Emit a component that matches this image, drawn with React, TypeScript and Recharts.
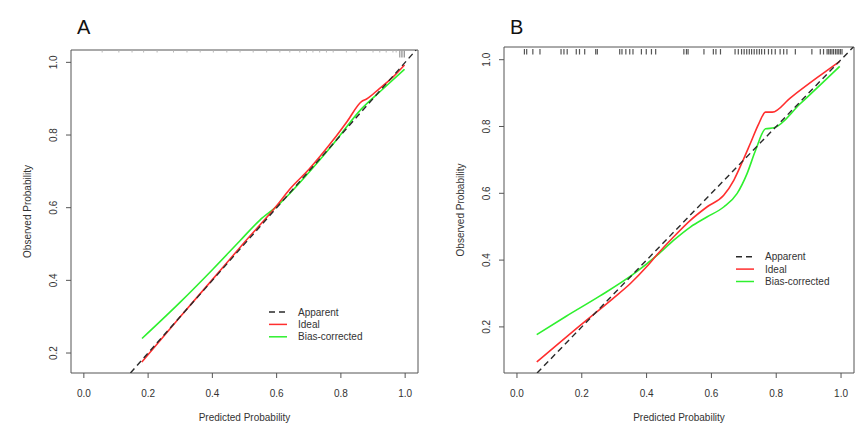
import React from 'react';
import { ComposedChart, Line, Scatter, XAxis, YAxis, ReferenceArea } from 'recharts';

// ---------- data ----------
const xTicks = [0, 0.2, 0.4, 0.6, 0.8, 1.0];
const yTicks = [0.2, 0.4, 0.6, 0.8, 1.0];
const xDomain: [number, number] = [-0.04, 1.04];
const yDomainA: [number, number] = [0.145, 1.034];
const yDomainB: [number, number] = [0.062, 1.038];

// Panel A
const idealAX = [0.18, 0.3, 0.4, 0.5, 0.6, 0.64, 0.7, 0.734, 0.776, 0.82, 0.864, 0.88, 0.92, 0.96, 0.998];
const idealAY = [0.175, 0.3, 0.402, 0.505, 0.605, 0.65, 0.705, 0.74, 0.786, 0.838, 0.892, 0.899, 0.928, 0.958, 0.993];
const biasAX = [0.181, 0.3, 0.403, 0.486, 0.548, 0.605, 0.641, 0.734, 0.776, 0.864, 0.93, 0.998];
const biasAY = [0.24, 0.34, 0.432, 0.509, 0.566, 0.607, 0.639, 0.731, 0.775, 0.872, 0.926, 0.981];
const rugAShort = [0.057, 0.109, 0.15, 0.186, 0.228, 0.279, 0.321, 0.362, 0.403, 0.445, 0.486, 0.527, 0.569, 0.61, 0.641, 0.672, 0.693, 0.713, 0.734, 0.755, 0.776, 0.817, 0.848, 0.9, 0.921, 0.941, 0.962, 0.972];
const rugATall = [0.983, 0.988, 0.993, 0.998];

// Panel B
const idealBX = [0.061, 0.198, 0.296, 0.35, 0.4, 0.432, 0.483, 0.535, 0.586, 0.638, 0.669, 0.695, 0.72, 0.746, 0.767, 0.788, 0.844, 0.926, 0.996];
const idealBY = [0.095, 0.207, 0.285, 0.33, 0.38, 0.416, 0.469, 0.519, 0.559, 0.594, 0.639, 0.693, 0.749, 0.808, 0.843, 0.843, 0.886, 0.946, 0.995];
const biasBX = [0.061, 0.152, 0.255, 0.358, 0.432, 0.483, 0.535, 0.586, 0.638, 0.679, 0.71, 0.736, 0.767, 0.793, 0.874, 0.996];
const biasBY = [0.177, 0.232, 0.292, 0.357, 0.414, 0.459, 0.499, 0.529, 0.559, 0.599, 0.659, 0.728, 0.793, 0.796, 0.868, 0.98];
const rugB = [0.023, 0.03, 0.049, 0.071, 0.136, 0.145, 0.155, 0.183, 0.193, 0.209, 0.243, 0.248, 0.317, 0.324, 0.336, 0.348, 0.358, 0.384, 0.399, 0.415, 0.428, 0.515, 0.523, 0.528, 0.577, 0.606, 0.614, 0.628, 0.673, 0.683, 0.693, 0.701, 0.709, 0.717, 0.724, 0.732, 0.74, 0.748, 0.755, 0.764, 0.776, 0.786, 0.797, 0.812, 0.823, 0.833, 0.859, 0.91, 0.936, 0.946, 0.957, 0.962, 0.967, 0.972, 0.977, 0.983, 0.988, 0.993, 0.998, 1.003];

const legendLabels = ['Apparent', 'Ideal', 'Bias-corrected'];

// ---------- helpers ----------
const FONT = '"Liberation Sans", Arial, Helvetica, sans-serif';
const RED = '#ff2e2e';
const GREEN = '#2ef02e';
const BLACK = '#2a2a2a';
const AXIS = '#555';

const zip = (xs: number[], ys: number[]) => xs.map((x, i) => ({ x, y: ys[i] }));

const XTick = (props: any) => {
  const { x, y, payload } = props;
  return (
    <text x={x} y={y} dy={18.5} textAnchor="middle" fontSize={10} fill="#333" fontFamily={FONT}>
      {Number(payload.value).toFixed(1)}
    </text>
  );
};

const YTick = (props: any) => {
  const { x, y, payload } = props;
  return (
    <text transform={`translate(${x - 9},${y}) rotate(-90)`} textAnchor="middle" fontSize={10} fill="#333" fontFamily={FONT}>
      {Number(payload.value).toFixed(1)}
    </text>
  );
};

const rugShape = (len: number, off: number, color: string, w: number) => (p: any) => (
  <line x1={p.cx} x2={p.cx} y1={p.cy + off} y2={p.cy + off + len} stroke={color} strokeWidth={w} />
);

type PanelProps = {
  title: string;
  left: number;
  yDomain: [number, number];
  ideal: { x: number; y: number }[];
  bias: { x: number; y: number }[];
  rugs: { vals: number[]; len: number; off: number; color: string; w: number }[];
  top: number;
  right: number;
  xAxisHeight: number;
  legendX: number;
  legendY: number;
  xLabelBaseline: number;
};

const Panel = (p: PanelProps) => {
  const lo = Math.max(xDomain[0], p.yDomain[0]);
  const hi = Math.min(xDomain[1], p.yDomain[1]);
  const diag = [{ x: lo, y: lo }, { x: hi, y: hi }];
  return (
    <div style={{ position: 'absolute', left: p.left, top: 0, width: 433, height: 432 }}>
      <ComposedChart width={433} height={432} margin={{ top: p.top, right: p.right, bottom: 0, left: 0 }}>
        <XAxis
          dataKey="x"
          type="number"
          domain={xDomain}
          ticks={xTicks}
          allowDataOverflow
          axisLine={false}
          tickLine={{ stroke: AXIS }}
          tickSize={5}
          tickMargin={0}
          height={p.xAxisHeight}
          tick={<XTick />}
          interval={0}
          label={{
            content: (lp: any) => {
              const vb = lp.viewBox;
              return (
                <text x={vb.x + vb.width / 2} y={p.xLabelBaseline} textAnchor="middle" fontSize={10} fill="#333" fontFamily={FONT}>
                  Predicted Probability
                </text>
              );
            },
          }}
        />
        <YAxis
          dataKey="y"
          type="number"
          domain={p.yDomain}
          ticks={yTicks}
          allowDataOverflow
          axisLine={false}
          tickLine={{ stroke: AXIS }}
          tickSize={5}
          tickMargin={0}
          width={71}
          tick={<YTick />}
          interval={0}
          label={{
            content: (lp: any) => {
              const vb = lp.viewBox;
              return (
                <text transform={`translate(31,${vb.y + vb.height / 2}) rotate(-90)`} textAnchor="middle" fontSize={10} fill="#333" fontFamily={FONT}>
                  Observed Probability
                </text>
              );
            },
          }}
        />
        <ReferenceArea x1={xDomain[0]} x2={xDomain[1]} y1={p.yDomain[0]} y2={p.yDomain[1]} fill="none" fillOpacity={0} stroke={AXIS} strokeWidth={1} />
        {p.rugs.map((r, i) => (
          <Scatter
            key={'rug' + i}
            data={r.vals.map((v) => ({ x: v, y: p.yDomain[1] }))}
            dataKey="y"
            shape={rugShape(r.len, r.off, r.color, r.w)}
            isAnimationActive={false}
          />
        ))}
        <Line data={p.bias} dataKey="y" type="monotone" stroke={GREEN} strokeWidth={1.6} dot={false} isAnimationActive={false} />
        <Line data={p.ideal} dataKey="y" type="monotone" stroke={RED} strokeWidth={1.6} dot={false} isAnimationActive={false} />
        <Line data={diag} dataKey="y" type="linear" stroke={BLACK} strokeWidth={1.4} strokeDasharray="6 4" dot={false} isAnimationActive={false} />
      </ComposedChart>
      <svg width={433} height={432} style={{ position: 'absolute', left: 0, top: 0, pointerEvents: 'none' }}>
        <text x={77} y={34} fontSize={20} fill="#111" fontFamily={FONT}>{p.title}</text>
        {legendLabels.map((lab, i) => {
          const y = p.legendY + i * 12.4;
          const color = i === 0 ? BLACK : i === 1 ? RED : GREEN;
          return (
            <g key={lab}>
              <line x1={p.legendX} x2={p.legendX + 18} y1={y} y2={y} stroke={color} strokeWidth={1.5} strokeDasharray={i === 0 ? '6 4' : undefined} />
              <text x={p.legendX + 29} y={y + 3.6} fontSize={10} fill="#333" fontFamily={FONT}>{lab}</text>
            </g>
          );
        })}
      </svg>
    </div>
  );
};

export default function App() {
  return (
    <div style={{ position: 'absolute', left: 0, top: 0, width: 866, height: 432, background: '#fff' }}>
      <Panel
        title="A"
        left={0}
        yDomain={yDomainA}
        ideal={zip(idealAX, idealAY)}
        bias={zip(biasAX, biasAY)}
        rugs={[
          { vals: rugAShort, len: 2, off: 0.5, color: '#b8b8b8', w: 1 },
          { vals: rugATall, len: 7, off: 0.5, color: '#999', w: 1 },
        ]}
        top={50}
        right={15}
        xAxisHeight={59}
        legendX={269}
        legendY={312}
        xLabelBaseline={420.5}
      />
      <Panel
        title="B"
        left={433}
        yDomain={yDomainB}
        ideal={zip(idealBX, idealBY)}
        bias={zip(biasBX, biasBY)}
        rugs={[{ vals: rugB, len: 5.5, off: 2, color: '#555', w: 1.2 }]}
        top={47}
        right={12}
        xAxisHeight={59}
        legendX={303}
        legendY={256.7}
        xLabelBaseline={421}
      />
    </div>
  );
}
